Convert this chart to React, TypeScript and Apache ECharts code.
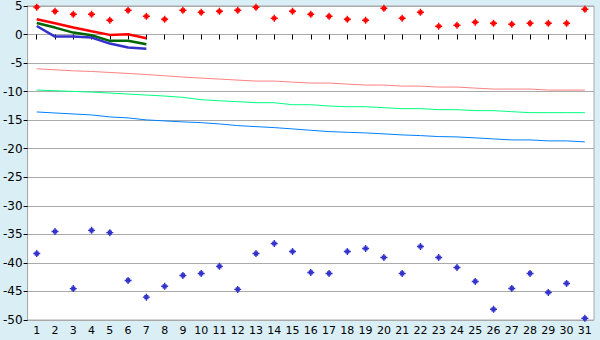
import React, { useEffect, useRef } from "react";
import * as echarts from "echarts";

const days = Array.from({ length: 31 }, (_, i) => String(i + 1));

const redPoints = [4.8, 4.07, 3.55, 3.55, 2.5, 4.25, 3.2, 2.67, 4.25, 3.9, 4.07, 4.25, 4.77, 2.85, 4.07, 3.55, 3.2, 2.67, 2.5, 4.6, 2.85, 3.9, 1.45, 1.63, 2.15, 1.97, 1.8, 1.97, 1.97, 1.97, 4.42];
const bluePoints = [-38.36, -34.5, -44.5, -34.3, -34.7, -43.07, -46.0, -44.1, -42.2, -41.85, -40.6, -44.64, -38.36, -36.6, -38.0, -41.67, -41.85, -38.0, -37.48, -39.05, -41.85, -37.13, -39.05, -40.8, -43.25, -48.13, -44.47, -41.85, -45.17, -43.6, -49.7];

const redLine = [2.67, 1.97, 1.22, 0.57, -0.06, 0.06, -0.64];
const greenLine = [2.03, 1.22, 0.34, -0.12, -1.1, -1.1, -1.7];
const blueLine = [1.5, -0.36, -0.36, -0.53, -1.58, -2.28, -2.5];

const pinkTrend = [-6.0, -6.17, -6.35, -6.47, -6.64, -6.81, -7.0, -7.22, -7.45, -7.63, -7.8, -7.98, -8.15, -8.15, -8.33, -8.5, -8.5, -8.68, -8.85, -8.85, -9.03, -9.03, -9.2, -9.2, -9.38, -9.55, -9.55, -9.55, -9.72, -9.72, -9.72];
const mintTrend = [-9.72, -9.84, -9.96, -10.07, -10.25, -10.42, -10.6, -10.77, -11.0, -11.41, -11.6, -11.76, -11.94, -11.94, -12.29, -12.29, -12.52, -12.64, -12.64, -12.81, -12.98, -12.98, -13.16, -13.16, -13.33, -13.33, -13.51, -13.68, -13.68, -13.68, -13.68];
const skyTrend = [-13.56, -13.74, -13.91, -14.08, -14.43, -14.6, -14.95, -15.13, -15.3, -15.43, -15.66, -15.95, -16.13, -16.3, -16.53, -16.77, -17.0, -17.12, -17.23, -17.4, -17.58, -17.7, -17.87, -17.93, -18.1, -18.28, -18.46, -18.46, -18.63, -18.63, -18.8];

const plusSymbol = "path://M2,0H3V1H4V2H5V3H4V4H3V5H2V4H1V3H0V2H1V1H2Z";

export default function App() {
  const ref = useRef<HTMLDivElement>(null);
  useEffect(() => {
    if (!ref.current) return;
    const chart = echarts.init(ref.current, null, { renderer: "svg" });
    const lineSeries = (data: number[], color: string, width: number) => ({
      type: "line",
      data,
      symbol: "none",
      lineStyle: { color, width },
      z: 2,
    });
    chart.setOption({
      animation: false,
      backgroundColor: "#d9eef5",
      grid: { left: 26, right: 6, top: 5, bottom: 20, containLabel: false, show: true, backgroundColor: "#ffffff", borderColor: "#aaaaaa", borderWidth: 1 },
      textStyle: { fontFamily: "DejaVu Sans" },
      xAxis: {
        type: "category",
        data: days,
        boundaryGap: true,
        axisLine: { show: true, lineStyle: { color: "#aaaaaa" } },
        axisTick: { show: true, alignWithLabel: true, length: 5, lineStyle: { color: "#000000" } },
        axisLabel: { color: "#000000", fontSize: 11, margin: 5, interval: 0, fontFamily: "DejaVu Sans" },
        splitLine: { show: false },
      },
      yAxis: {
        type: "value",
        min: -50,
        max: 5,
        interval: 5,
        axisLine: { show: true, lineStyle: { color: "#aaaaaa" } },
        axisTick: { show: true, length: 4, lineStyle: { color: "#000000" } },
        axisLabel: { color: "#000000", fontSize: 12, margin: 5, fontFamily: "DejaVu Sans" },
        splitLine: { show: true, lineStyle: { color: "#aaaaaa", width: 1 } },
      },
      series: [
        lineSeries(pinkTrend, "#ff8080", 1),
        lineSeries(mintTrend, "#00ff80", 1),
        lineSeries(skyTrend, "#0080ff", 1),
        lineSeries(redLine, "#ff0000", 2.5),
        lineSeries(greenLine, "#006600", 2.5),
        lineSeries(blueLine, "#3333cc", 2.5),
        {
          type: "scatter",
          data: redPoints,
          symbol: plusSymbol,
          symbolSize: 7,
          itemStyle: { color: "#ff0000", opacity: 1 },
          z: 3,
        },
        {
          type: "scatter",
          data: bluePoints,
          symbol: plusSymbol,
          symbolSize: 7,
          itemStyle: { color: "#3333cc", opacity: 1 },
          z: 3,
        },
      ],
    });
    return () => chart.dispose();
  }, []);
  return <div ref={ref} style={{ width: 600, height: 340, position: "absolute", left: 0, top: 0 }} />;
}
